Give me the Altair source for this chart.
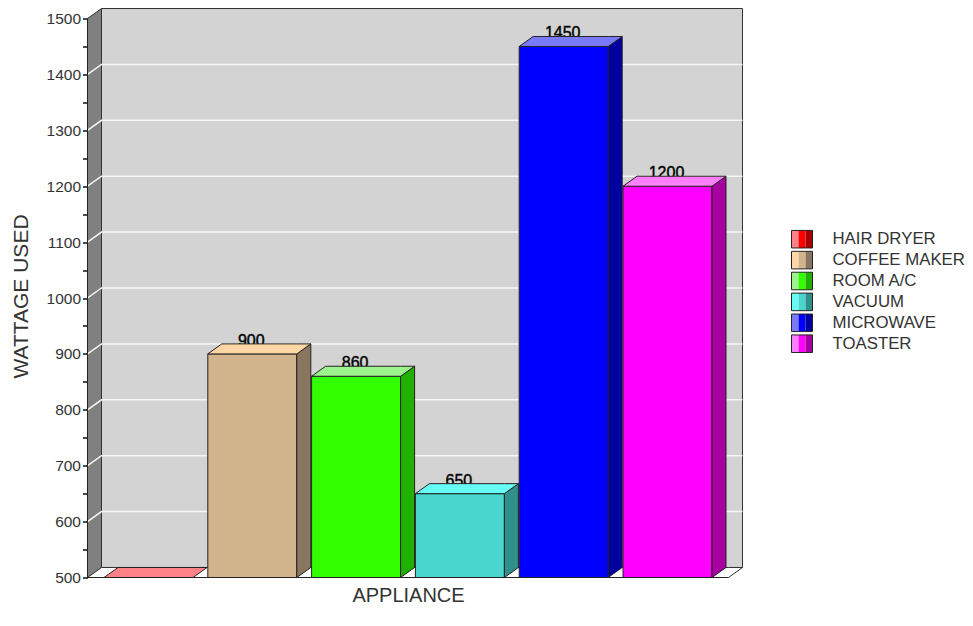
import altair as alt
import pandas as pd

categories = ["HAIR DRYER", "COFFEE MAKER", "ROOM A/C", "VACUUM", "MICROWAVE", "TOASTER"]
watts = [500, 900, 860, 650, 1450, 1200]
front = ["#ff0000", "#d2b48c", "#33ff00", "#48d6cf", "#0000ff", "#ff00ff"]
topc = ["#ff8288", "#ffd6a4", "#9cf58c", "#66fbf4", "#7a7af8", "#ff80ff"]
side = ["#a80000", "#8a7660", "#22b000", "#30908c", "#0000a0", "#a800a0"]
y_ticks = list(range(500, 1501, 50))
grid_values = list(range(600, 1401, 100))

BASE = 500
DX = 14            # depth, in x units (one unit = one px)
DY = 17.9          # depth, in watts
PLOT_W = 655
PLOT_H = 569
Y_MAX = BASE + PLOT_H * 1.789
BAR_W = 89
PITCH = 103.8
FIRST = 16.5
FONT = "Liberation Sans"
INK = "#222222"

xs = alt.Scale(domain=[0, PLOT_W], nice=False, zero=False)
ys = alt.Scale(domain=[BASE, Y_MAX], nice=False, zero=False)

XAX = alt.Axis(
    title="APPLIANCE", labels=False, ticks=False, domain=False, grid=False,
    titleFont=FONT, titleFontSize=20, titleFontWeight="normal", titleColor="#333333",
    titlePadding=8, titleX=(PLOT_W - DX) / 2)
YAX = alt.Axis(
    title="WATTAGE USED", values=y_ticks, grid=False, domain=False,
    labelExpr="datum.value % 100 == 0 ? datum.value : ''",
    tickSize=5, tickColor="#111111", tickWidth=1.5,
    labelFont=FONT, labelFontSize=15.5, labelColor="#333333", labelPadding=2,
    titleFont=FONT, titleFontSize=21, titleFontWeight="normal", titleColor="#333333",
    titlePadding=15, titleY=287.5, labelOverlap=False)


def poly(rows, pid, fill):
    return [{"x": x, "y": a, "y2": b, "pid": pid, "fill": fill} for x, a, b in rows]


walls = []
walls += poly([(DX, BASE + DY, Y_MAX), (PLOT_W, BASE + DY, Y_MAX)], "a_back", "#d3d3d3")
walls += poly([(0, BASE, 1500), (DX, BASE + DY, Y_MAX)], "b_left", "#808080")
walls += poly([(0, BASE, BASE), (DX, BASE, BASE + DY), (PLOT_W - DX, BASE, BASE + DY),
               (PLOT_W, BASE + DY, BASE + DY)], "c_floor", "#ffffff")

grid = []
for v in grid_values:
    grid += [{"x": 0, "v": v, "g": v}, {"x": DX, "v": v + DY, "g": v}, {"x": PLOT_W, "v": v + DY, "g": v}]

faces = []
labels = []
for i, (name, v) in enumerate(zip(categories, watts)):
    L = FIRST + i * PITCH
    R = L + BAR_W
    pid = f"{i}"
    if v > BASE:
        faces += poly([(L, BASE, v), (R, BASE, v)], pid + "_f", front[i])
        faces += poly([(R, BASE, v), (R + DX, BASE + DY, v + DY)], pid + "_s", side[i])
        labels.append({"x": (L + R) / 2 - 1, "y": v + DY, "t": str(v)})
    faces += poly([(L, v, v), (L + DX, v, v + DY), (R, v, v + DY), (R + DX, v + DY, v + DY)],
                  pid + "_t", topc[i])


def areas(rows, stroke=INK):
    return alt.Chart(pd.DataFrame(rows)).mark_area(
        stroke=stroke, strokeWidth=1, interpolate="linear", opacity=1, orient="vertical"
    ).encode(
        x=alt.X("x:Q", scale=xs, axis=XAX),
        y=alt.Y("y:Q", scale=ys, axis=YAX),
        y2="y2:Q",
        detail="pid:N",
        fill=alt.Fill("fill:N", scale=None),
    )


wall_layer = areas(walls, "#333333")
grid_layer = alt.Chart(pd.DataFrame(grid)).mark_line(color="#f6f6f6", strokeWidth=1.5).encode(
    x=alt.X("x:Q", scale=xs, axis=XAX),
    y=alt.Y("v:Q", scale=ys, axis=YAX),
    detail="g:N",
)
label_layer = alt.Chart(pd.DataFrame(labels)).mark_text(
    font=FONT, fontSize=16, color="#000000", stroke="#000000", strokeWidth=0.4,
    baseline="alphabetic", dy=2
).encode(
    x=alt.X("x:Q", scale=xs, axis=XAX),
    y=alt.Y("y:Q", scale=ys, axis=YAX),
    text="t:N",
)
bar_layer = areas(faces)

axis_df = pd.DataFrame({"a": [0], "b": [BASE]})
y_axis_layer = alt.Chart(axis_df).mark_rule(color=INK, strokeWidth=1).encode(
    x=alt.X("a:Q", scale=xs, axis=XAX),
    y=alt.Y("b:Q", scale=ys, axis=YAX),
    y2=alt.datum(1500),
)
base_rule = alt.Chart(axis_df).mark_rule(color=INK, strokeWidth=1).encode(
    x=alt.X("a:Q", scale=xs, axis=XAX),
    x2=alt.datum(PLOT_W - DX),
    y=alt.Y("b:Q", scale=ys, axis=YAX),
)
main = alt.layer(wall_layer, grid_layer, y_axis_layer, base_rule, label_layer, bar_layer).properties(
    width=PLOT_W, height=PLOT_H
)

# legend panel
LEG_W = 165
PX_PER_ROW = 20.9
top_rows = 230.7
leg_domain = [-top_rows / PX_PER_ROW, (PLOT_H - top_rows) / PX_PER_ROW]
lx = alt.Scale(domain=[0, LEG_W], nice=False, zero=False)
ly = alt.Scale(domain=leg_domain, reverse=True, nice=False, zero=False)
seg = []
frames = []
for r, name in enumerate(categories):
    for k, c in enumerate([topc[r], front[r], side[r]]):
        seg.append({"x": k * 7, "x2": (k + 1) * 7, "r": r - 0.42, "r2": r + 0.42, "c": c})
    frames.append({"x": 0, "x2": 21, "r": r - 0.42, "r2": r + 0.42, "name": name, "tx": 41, "row": r})
seg_layer = alt.Chart(pd.DataFrame(seg)).mark_rect().encode(
    x=alt.X("x:Q", scale=lx, axis=None), x2="x2:Q",
    y=alt.Y("r:Q", scale=ly, axis=None), y2="r2:Q",
    color=alt.Color("c:N", scale=None),
)
frame_layer = alt.Chart(pd.DataFrame(frames)).mark_rect(fillOpacity=0, stroke=INK, strokeWidth=1).encode(
    x=alt.X("x:Q", scale=lx, axis=None), x2="x2:Q",
    y=alt.Y("r:Q", scale=ly, axis=None), y2="r2:Q",
)
text_layer = alt.Chart(pd.DataFrame(frames)).mark_text(
    font=FONT, fontSize=16.8, color="#333333", align="left", baseline="middle"
).encode(
    x=alt.X("tx:Q", scale=lx, axis=None),
    y=alt.Y("row:Q", scale=ly, axis=None),
    text="name:N",
)
legend_panel = alt.layer(seg_layer, frame_layer, text_layer).properties(width=LEG_W, height=PLOT_H)

chart = alt.hconcat(main, legend_panel, spacing=45).resolve_scale(x="independent", y="independent").configure_view(
    stroke=None
).properties(padding={"left": 1.5, "top": -1.5, "right": -1, "bottom": 0}, background="#ffffff")

chart.save("out.html", embed_options={"renderer": "svg", "actions": False})
